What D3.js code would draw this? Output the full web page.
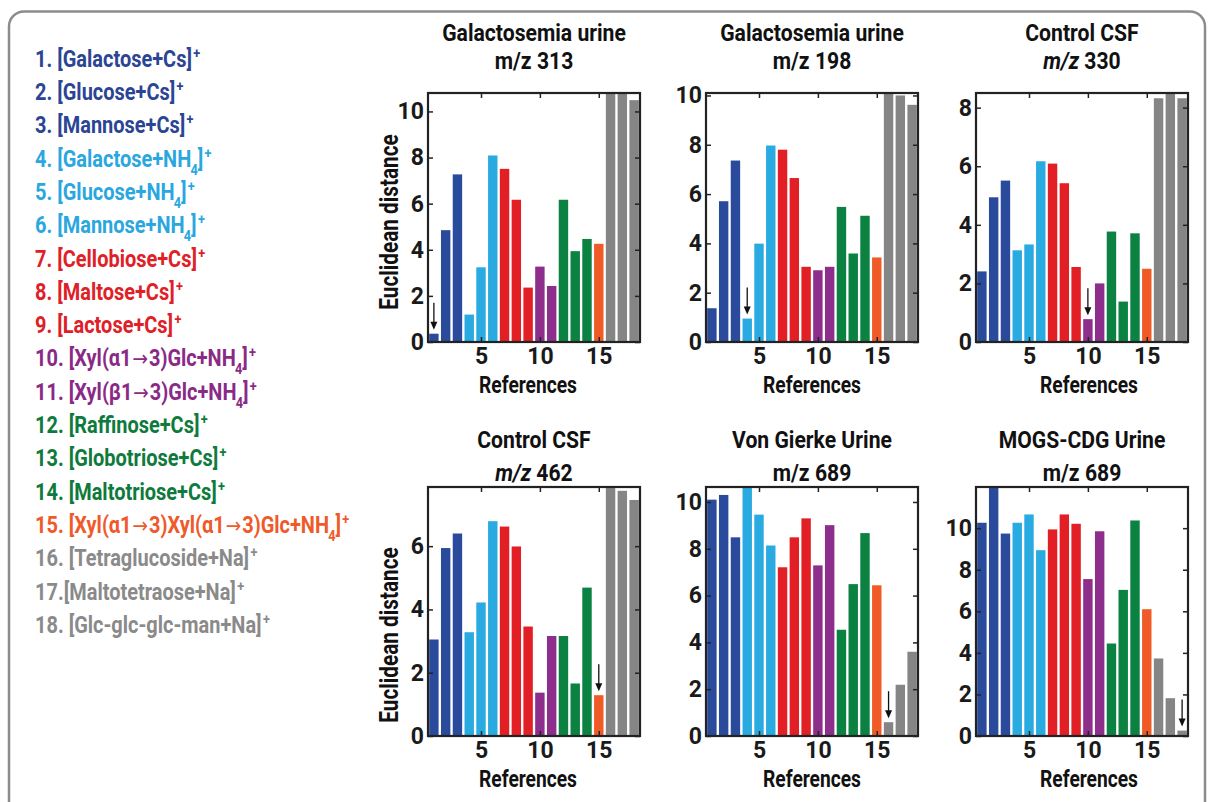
<!DOCTYPE html>
<html>
<head>
<meta charset="utf-8">
<script src="https://cdn.jsdelivr.net/npm/d3@7"></script>
<style>
  body { margin: 0; background: #fff; }
  svg text { font-family: Roboto, "Open Sans", sans-serif; font-weight: 700; }
</style>
</head>
<body>
<svg id="chart"></svg>
<script>
// ---- data ----
const references = d3.range(1, 19);
const refGroup = ['hexCs', 'hexCs', 'hexCs', 'hexNH4', 'hexNH4', 'hexNH4', 'diCs', 'diCs', 'diCs',
                  'xylNH4', 'xylNH4', 'triCs', 'triCs', 'triCs', 'xyl3NH4', 'tetraNa', 'tetraNa', 'tetraNa'];
const legendLabels = [
  '1. [Galactose+Cs]', '2. [Glucose+Cs]', '3. [Mannose+Cs]',
  '4. [Galactose+NH_4]', '5. [Glucose+NH_4]', '6. [Mannose+NH_4]',
  '7. [Cellobiose+Cs]', '8. [Maltose+Cs]', '9. [Lactose+Cs]',
  '10. [Xyl(α1→3)Glc+NH_4]', '11. [Xyl(β1→3)Glc+NH_4]',
  '12. [Raffinose+Cs]', '13. [Globotriose+Cs]', '14. [Maltotriose+Cs]',
  '15. [Xyl(α1→3)Xyl(α1→3)Glc+NH_4]',
  '16. [Tetraglucoside+Na]', '17.[Maltotetraose+Na]', '18. [Glc-glc-glc-man+Na]'
];

const galUrine313   = [0.36, 4.85, 7.27, 1.19, 3.24, 8.09, 7.51, 6.17, 2.36, 3.27, 2.43, 6.17, 3.94, 4.47, 4.26, 12.0, 12.0, 10.49];
const galUrine198   = [1.37, 5.71, 7.36, 0.95, 3.99, 7.97, 7.80, 6.65, 3.05, 2.91, 3.05, 5.48, 3.59, 5.12, 3.43, 10.6, 10.0, 9.62];
const controlCsf330 = [2.41, 4.94, 5.51, 3.13, 3.33, 6.17, 6.09, 5.42, 2.56, 0.78, 2.00, 3.77, 1.38, 3.71, 2.50, 8.32, 9.0, 8.32];
const controlCsf462 = [3.05, 5.94, 6.40, 3.28, 4.22, 6.79, 6.62, 5.99, 3.46, 1.37, 3.16, 3.16, 1.66, 4.69, 1.29, 8.5, 7.75, 7.46];
const vonGierke689  = [10.1, 10.3, 8.49, 11.2, 9.46, 8.14, 7.21, 8.49, 9.30, 7.29, 9.01, 4.54, 6.49, 8.67, 6.44, 0.59, 2.19, 3.60];
const mogsCdg689    = [10.26, 12.5, 9.74, 10.26, 10.66, 8.94, 9.94, 10.66, 10.21, 7.55, 9.85, 4.45, 7.03, 10.37, 6.10, 3.73, 1.82, 0.26];

const panelTitles = [
  ['Galactosemia urine', 'm/z', ' 313'],
  ['Galactosemia urine', 'm/z', ' 198'],
  ['Control CSF', 'm/z', ' 330'],
  ['Control CSF', 'm/z', ' 462'],
  ['Von Gierke Urine', 'm/z', ' 689'],
  ['MOGS-CDG Urine', 'm/z', ' 689']
];
const italicMz = [false, false, true, true, false, false];
const panelValues = [galUrine313, galUrine198, controlCsf330, controlCsf462, vonGierke689, mogsCdg689];
const yMax = [10.8, 10.1, 8.5, 7.87, 10.64, 11.98];
const yTickValues = [[0, 2, 4, 6, 8, 10], [0, 2, 4, 6, 8, 10], [0, 2, 4, 6, 8], [0, 2, 4, 6], [0, 2, 4, 6, 8, 10], [0, 2, 4, 6, 8, 10]];
const xTickValues = [5, 10, 15];
const bestMatch = [1, 4, 10, 15, 16, 18];

// ---- style ----
const barColor = {
  hexCs: '#2a4b9b', hexNH4: '#29abe2', diCs: '#e31f26', xylNH4: '#8d2e8c',
  triCs: '#0b8241', xyl3NH4: '#f05a26', tetraNa: '#858585'
};
const textColor = {
  hexCs: '#2b4594', hexNH4: '#2aa7df', diCs: '#e02027', xylNH4: '#8a2a86',
  triCs: '#0e7a3c', xyl3NH4: '#ee5a2a', tetraNa: '#8a8a8a'
};

const width = 1208, height = 802;
const panelW = 212, panelH = 249;
const colX = [428, 706, 976];
const rowY = [93, 487];
const titleY = [[41, 68.5], [448, 481]];
const yLabelCenter = [222, 635];
const xLabelX = [528, 812, 1089];

const svg = d3.select('#chart').attr('width', width).attr('height', height);

// outer frame
svg.append('rect')
   .attr('x', 9).attr('y', 11.5)
   .attr('width', 1196).attr('height', 820)
   .attr('rx', 15)
   .attr('fill', 'none')
   .attr('stroke', '#8c8c8c')
   .attr('stroke-width', 2.5);

// condensed text helper (scaled horizontally)
function condText(parent, x, y, sx, size, anchor, rotate) {
    const g = parent.append('g')
        .attr('transform', `translate(${x},${y})${rotate ? ` rotate(${rotate})` : ''} scale(${sx},1)`);
    return g.append('text')
        .attr('font-size', size)
        .attr('text-anchor', anchor);
}

// legend: split on arrows and the NH4 subscript
function addPieces(t, str) {
    str.split('→').forEach((piece, k) => {
        if (k > 0) {
            t.append('tspan')
             .attr('font-family', '"DejaVu Sans", sans-serif')
             .attr('font-weight', 400)
             .attr('font-size', 22)
             .attr('dx', 1)
             .text('→');
        }
        t.append('tspan').attr('dx', k > 0 ? 1 : 0).text(piece);
    });
}

const legend = svg.append('g');
legendLabels.forEach((lab, i) => {
    const t = condText(legend, 35, 66.7 + i * 33.3, 0.85, 23.5, 'start')
        .attr('fill', textColor[refGroup[i]]);
    const parts = lab.split('_4');
    addPieces(t, parts[0]);
    if (parts.length > 1) {
        t.append('tspan').attr('font-size', 15).attr('dy', 8).attr('dx', -1).text('4');
        t.append('tspan').attr('dy', -8).text(parts[1]);
    }
    t.append('tspan').attr('font-size', 15).attr('dy', -9).attr('dx', 1.5).text('+');
});

// panels
panelValues.forEach((vals, p) => {
    const col = p % 3, row = Math.floor(p / 3);
    const left = colX[col], top = rowY[row];
    const g = svg.append('g').attr('transform', `translate(${left},${top})`);

    const x = d3.scaleLinear().domain([0.5, 18.5]).range([0, panelW]);
    const y = d3.scaleLinear().domain([0, yMax[p]]).range([panelH, 0]);

    g.append('clipPath').attr('id', `clip${p}`)
     .append('rect').attr('width', panelW).attr('height', panelH);

    g.append('g').attr('clip-path', `url(#clip${p})`)
     .selectAll('rect')
     .data(references)
     .enter()
     .append('rect')
     .attr('x', d => x(d - 0.4))
     .attr('width', d => x(d + 0.4) - x(d - 0.4))
     .attr('y', d => y(vals[d - 1]))
     .attr('height', d => panelH - y(vals[d - 1]))
     .attr('fill', d => barColor[refGroup[d - 1]]);

    // axes with inward ticks on all sides
    const tickLen = 5;
    g.append('g').attr('transform', `translate(0,${panelH})`)
     .call(d3.axisBottom(x).tickValues(xTickValues).tickSizeInner(-tickLen).tickSizeOuter(0).tickPadding(6));
    g.append('g')
     .call(d3.axisTop(x).tickValues(xTickValues).tickSizeInner(-tickLen).tickSizeOuter(0).tickFormat(''));
    g.append('g')
     .call(d3.axisLeft(y).tickValues(yTickValues[p]).tickSizeInner(-tickLen).tickSizeOuter(0).tickPadding(4));
    g.append('g').attr('transform', `translate(${panelW},0)`)
     .call(d3.axisRight(y).tickValues(yTickValues[p]).tickSizeInner(-tickLen).tickSizeOuter(0).tickFormat(''));

    g.selectAll('.domain').remove();
    g.selectAll('.tick line').attr('stroke', '#222').attr('stroke-width', 1.5);
    g.selectAll('.tick text')
     .attr('font-size', 23)
     .attr('font-family', 'Roboto, sans-serif')
     .attr('font-weight', 700)
     .attr('fill', '#1a1a1a');

    g.append('rect')
     .attr('width', panelW).attr('height', panelH)
     .attr('fill', 'none').attr('stroke', '#222').attr('stroke-width', 2.2);

    // arrow marking the best match
    const bi = bestMatch[p];
    const ax = x(bi), tip = y(vals[bi - 1]) - 4;
    g.append('line')
     .attr('x1', ax).attr('x2', ax)
     .attr('y1', tip - 27).attr('y2', tip - 5)
     .attr('stroke', '#111').attr('stroke-width', 1.3);
    g.append('path')
     .attr('d', `M${ax - 3.5},${tip - 8}L${ax + 3.5},${tip - 8}L${ax},${tip}Z`)
     .attr('fill', '#111');

    // titles
    const cx = left + panelW / 2;
    condText(svg, cx, titleY[row][0], 0.92, 23, 'middle')
        .attr('fill', '#111').text(panelTitles[p][0]);
    const t2 = condText(svg, cx, titleY[row][1], 0.92, 23, 'middle').attr('fill', '#111');
    t2.append('tspan').attr('font-style', italicMz[p] ? 'italic' : 'normal').text(panelTitles[p][1]);
    t2.append('tspan').text(panelTitles[p][2]);

    // axis labels
    condText(svg, xLabelX[col], top + panelH + 51, 0.8, 24, 'middle')
        .attr('fill', '#111').text('References');
    if (col === 0) {
        condText(svg, 398, yLabelCenter[row], 0.83, 25, 'middle', -90)
            .attr('fill', '#111').text('Euclidean distance');
    }
});
</script>
</body>
</html>
